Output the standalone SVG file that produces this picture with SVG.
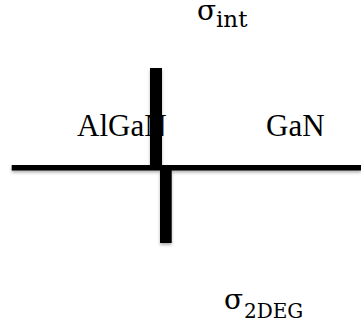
<svg xmlns="http://www.w3.org/2000/svg" width="361" height="325" viewBox="0 0 361 325">
  <style>
    .layer { font-family: "Liberation Serif", "Times New Roman", serif; font-size: 31px; fill: #000; }
    .math { font-family: "DejaVu Serif", "Liberation Serif", serif; fill: #000; }
    .sym { font-size: 28px; }
    .sub-int { font-size: 23px; }
    .sub-2deg { font-size: 20px; }
    .bar { fill: #000; }
  </style>
  <defs>
    <filter id="shadow" x="-10%" y="-20%" width="120%" height="160%">
      <feDropShadow dx="0" dy="2" stdDeviation="1.5" flood-color="#000" flood-opacity="0.3"/>
    </filter>
  </defs>

  <g id="label-algan">
    <text class="layer" x="77" y="136">AlGaN</text>
  </g>
  <g id="label-gan">
    <text class="layer" x="266" y="136">GaN</text>
  </g>

  <g id="connectors" filter="url(#shadow)">
    <!-- interface line -->
    <rect class="bar" x="11.7" y="165" width="349.3" height="5.5"/>
    <!-- upper charge sheet -->
    <rect class="bar" x="150" y="68" width="12" height="100"/>
    <!-- lower charge sheet -->
    <rect class="bar" x="160" y="166" width="11.7" height="77"/>
  </g>

  <g id="label-sigma-int">
    <text class="math sym" x="197" y="20">σ</text>
    <text class="math sub-int" x="216" y="27">int</text>
  </g>
  <g id="label-sigma-2deg">
    <text class="math sym" x="224" y="309">σ</text>
    <text class="math sub-2deg" x="244" y="318">2DEG</text>
  </g>
</svg>
